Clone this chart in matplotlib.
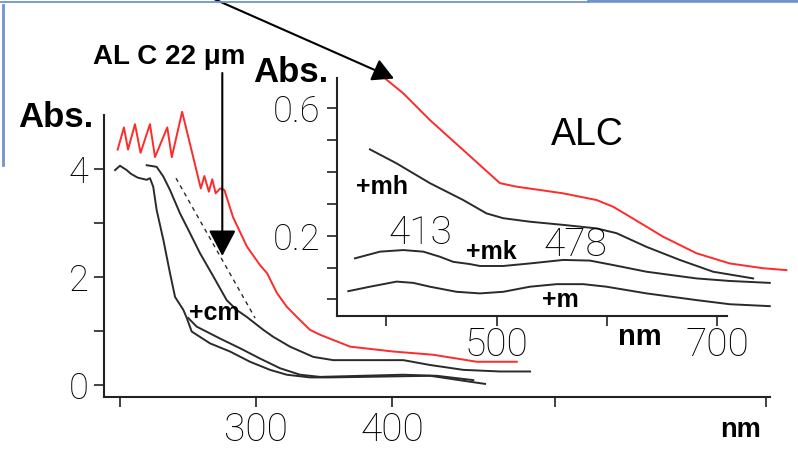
import matplotlib
matplotlib.use("Agg")
import matplotlib.pyplot as plt
from matplotlib.lines import Line2D
from matplotlib.patches import FancyArrowPatch

# ---------------- data ----------------
# main panel: wavelength (nm) / absorbance
red_nm = [198.5, 203.1, 206.1, 211.2, 215.3, 222.2, 225.9, 234.9, 238.2, 245.8, 253.9,
          259.5, 262.1, 265.4, 267.9, 270.4, 273.7, 276.8, 283.1, 293.4, 302.9, 308.1,
          315.4, 322.5, 332.3, 339.6, 347.0, 369.0, 400.5, 429.9, 454.6, 461.9, 491.3]
red_abs = [4.36, 4.77, 4.36, 4.83, 4.30, 4.83, 4.22, 4.77, 4.22, 5.06, 4.22,
           3.64, 3.87, 3.58, 3.81, 3.55, 3.64, 3.61, 3.11, 2.56, 2.22, 2.07,
           1.70, 1.45, 1.20, 1.02, 0.93, 0.71, 0.62, 0.56, 0.46, 0.43, 0.43]

c1_nm = [196.6, 200.2, 205.1, 208.3, 213.2, 219.8, 222.2, 224.6, 227.1, 232.0, 236.9,
         240.6, 246.7, 249.2, 252.8, 266.3, 280.9, 295.6, 310.3, 322.5, 339.6, 354.3,
         427.7, 457.0, 468.0]
c1_abs = [3.98, 4.06, 3.98, 3.91, 3.84, 3.80, 3.83, 3.67, 3.24, 2.69, 2.07,
          1.63, 1.39, 1.24, 0.99, 0.77, 0.62, 0.43, 0.28, 0.19, 0.14, 0.14,
          0.17, 0.06, 0.02]

c2_nm = [219.8, 227.1, 232.0, 236.9, 244.2, 251.6, 258.9, 268.7, 278.5, 285.8, 293.2,
         305.4, 312.7, 324.9, 342.0, 356.7, 408.1, 427.7, 452.1, 479.0, 501.0]
c2_abs = [4.07, 4.04, 3.86, 3.61, 3.18, 2.81, 2.44, 2.01, 1.57, 1.39, 1.26,
          1.02, 0.89, 0.71, 0.52, 0.46, 0.46, 0.37, 0.28, 0.25, 0.25]

cm_nm = [250.3, 256.5, 273.6, 288.3, 302.9, 317.6, 332.3, 347.0, 407.8, 432.6, 459.4]
cm_abs = [1.24, 1.08, 0.86, 0.68, 0.49, 0.31, 0.19, 0.15, 0.19, 0.17, 0.09]

dash_nm = [241.3, 299.3]
dash_abs = [3.83, 1.24]

main_xticks = [200, 300, 400, 519, 674]
main_xticklabels = ['', '300', '400', '', '']
main_yticks = [0, 1, 2, 3, 4]
main_yticklabels = ['0', '', '2', '', '4']

# inset panel
in_red_nm = [398.7, 415.3, 439.5, 469.7, 503.0, 518.1, 560.4, 590.7, 605.7, 620.8,
             651.0, 681.3, 711.5, 741.7, 762.9]
in_red_abs = [0.694, 0.647, 0.563, 0.469, 0.365, 0.354, 0.333, 0.312, 0.291, 0.260,
              0.197, 0.145, 0.113, 0.098, 0.092]

mh_nm = [385.1, 409.3, 439.5, 469.7, 490.9, 506.0, 530.2, 560.4, 590.7, 608.8,
         636.0, 666.2, 696.4, 732.7]
mh_abs = [0.471, 0.427, 0.365, 0.312, 0.270, 0.255, 0.244, 0.234, 0.223, 0.208,
          0.165, 0.124, 0.087, 0.066]

mk_nm = [371.5, 394.2, 415.3, 433.5, 448.6, 460.7, 475.8, 484.9, 506.0, 530.2,
         560.4, 584.6, 605.7, 636.0, 681.3, 711.5, 747.8]
mk_abs = [0.129, 0.150, 0.155, 0.150, 0.134, 0.118, 0.111, 0.105, 0.105, 0.113,
          0.124, 0.122, 0.108, 0.087, 0.066, 0.058, 0.052]

m_nm = [365.5, 385.1, 409.3, 424.4, 439.5, 463.7, 484.9, 506.0, 530.2, 554.4,
        578.5, 599.7, 636.0, 681.3, 711.5, 747.8]
m_abs = [0.026, 0.040, 0.056, 0.052, 0.040, 0.024, 0.019, 0.024, 0.040, 0.048,
         0.048, 0.040, 0.019, -0.002, -0.015, -0.021]

in_xticks = [400, 500, 600, 700]
in_xticklabels = ['', '500', '', '700']
in_yticks = [0.0, 0.1, 0.2, 0.3, 0.4, 0.5, 0.6]
in_yticklabels = ['', '', '0.2', '', '', '', '0.6']

# ---------------- figure ----------------
W, H = 798, 467
fig = plt.figure(figsize=(W / 100, H / 100), dpi=100)

def fx(px):
    return px / W

def fy(py):
    return 1 - py / H

BLACK = '#2a2a2a'
RED = '#ff2a2a'
NUMFONT = dict(family=['Roboto', 'DejaVu Sans'], weight='light')
BOLD = dict(family=['Liberation Sans', 'DejaVu Sans'], weight='bold')

# main axes
ax = fig.add_axes([fx(104.3), fy(396.7), fx(770 - 104.3), (396.7 - 115) / H])
ax.set_facecolor('none')
ax.set_xlim(188.7, 677)
ax.set_ylim(-0.217, 5.0)
for s in ['top', 'right']:
    ax.spines[s].set_visible(False)
for s in ['left', 'bottom']:
    ax.spines[s].set_linewidth(1.5)
    ax.spines[s].set_color('#222222')
ax.set_xticks(main_xticks)
ax.set_xticklabels(main_xticklabels, fontsize=28, **NUMFONT)
ax.set_yticks(main_yticks)
ax.set_yticklabels(main_yticklabels, fontsize=26, **NUMFONT)
ax.tick_params(axis='both', direction='out', length=7.5, width=1.2, color='#222222')
ax.tick_params(axis='x', pad=3)
ax.tick_params(axis='y', pad=4)

lw = 1.4
ax.plot(red_nm, red_abs, color=RED, lw=lw, clip_on=False, solid_joinstyle='round')
ax.plot(c1_nm, c1_abs, color=BLACK, lw=lw, clip_on=False, solid_joinstyle='round')
ax.plot(c2_nm, c2_abs, color=BLACK, lw=lw, clip_on=False, solid_joinstyle='round')
ax.plot(cm_nm, cm_abs, color=BLACK, lw=lw, clip_on=False, solid_joinstyle='round')
ax.plot(dash_nm, dash_abs, color=BLACK, lw=1.0, ls=(0, (3, 3)), clip_on=False)

# inset axes
ai = fig.add_axes([fx(337.3), fy(315.7), fx(727 - 337.3), (315.7 - 78) / H])
ai.set_facecolor('none')
ai.set_xlim(355.5, 709)
ai.set_ylim(-0.051, 0.695)
for s in ['top', 'right']:
    ai.spines[s].set_visible(False)
for s in ['left', 'bottom']:
    ai.spines[s].set_linewidth(1.5)
    ai.spines[s].set_color('#222222')
ai.set_xticks(in_xticks)
ai.set_xticklabels(in_xticklabels, fontsize=28, **NUMFONT)
ai.set_yticks(in_yticks)
ai.set_yticklabels(in_yticklabels, fontsize=26, **NUMFONT)
ai.tick_params(axis='both', direction='out', length=7.5, width=1.2, color='#222222')
ai.tick_params(axis='x', pad=0)
ai.tick_params(axis='y', pad=5)

ai.plot(in_red_nm, in_red_abs, color=RED, lw=lw, clip_on=False, solid_joinstyle='round')
ai.plot(mh_nm, mh_abs, color=BLACK, lw=lw, clip_on=False, solid_joinstyle='round')
ai.plot(mk_nm, mk_abs, color=BLACK, lw=lw, clip_on=False, solid_joinstyle='round')
ai.plot(m_nm, m_abs, color=BLACK, lw=lw, clip_on=False, solid_joinstyle='round')

# ---------------- texts ----------------
fig.text(fx(56), fy(117.5), 'Abs.', fontsize=25, ha='center', va='center', **BOLD)
fig.text(fx(290.5), fy(72.5), 'Abs.', fontsize=25, ha='center', va='center', **BOLD)
fig.text(fx(169), fy(63.5), 'AL C 22 μm', fontsize=20, ha='center', va='baseline', **BOLD)
fig.text(fx(587.5), fy(135), 'ALC', fontsize=27, ha='center', va='center',
         family=['Liberation Sans', 'DejaVu Sans'])
fig.text(fx(381.7), fy(187.5), '+mh', fontsize=18, ha='center', va='center', **BOLD)
fig.text(fx(491), fy(251.7), '+mk', fontsize=18, ha='center', va='center', **BOLD)
fig.text(fx(560), fy(300), '+m', fontsize=18, ha='center', va='center', **BOLD)
fig.text(fx(214), fy(313), '+cm', fontsize=18, ha='center', va='center', **BOLD)
fig.text(fx(420), fy(233.3), '413', fontsize=28, ha='center', va='center', **NUMFONT)
fig.text(fx(575), fy(245), '478', fontsize=28, ha='center', va='center', **NUMFONT)
fig.text(fx(640), fy(337), 'nm', fontsize=21, ha='center', va='center', **BOLD)
fig.text(fx(741), fy(430), 'nm', fontsize=19.5, ha='center', va='center', **BOLD)

# ---------------- arrows ----------------
fig.add_artist(FancyArrowPatch((fx(222.3), fy(73)), (fx(222.3), fy(256)),
                               transform=fig.transFigure, arrowstyle='-|>,head_length=0.8,head_width=0.42',
                               mutation_scale=20, color='black', lw=1.5, shrinkA=0, shrinkB=0))
fig.add_artist(FancyArrowPatch((fx(214), fy(-1)), (fx(394), fy(78.5)),
                               transform=fig.transFigure, arrowstyle='-|>,head_length=0.65,head_width=0.35',
                               mutation_scale=20, color='black', lw=1.5, shrinkA=0, shrinkB=0))

# ---------------- blue frame decoration ----------------
BLUE = '#6f93cf'
fig.add_artist(Line2D([fx(0), fx(589)], [fy(1.5), fy(1.5)], transform=fig.transFigure, color=BLUE, lw=1.3))
fig.add_artist(Line2D([fx(589), fx(798)], [fy(1.2), fy(1.2)], transform=fig.transFigure, color=BLUE, lw=2.6))
fig.add_artist(Line2D([fx(2.5), fx(2.5)], [fy(5), fy(165)], transform=fig.transFigure, color=BLUE, lw=2.0))

fig.savefig('out.png', dpi=100)
